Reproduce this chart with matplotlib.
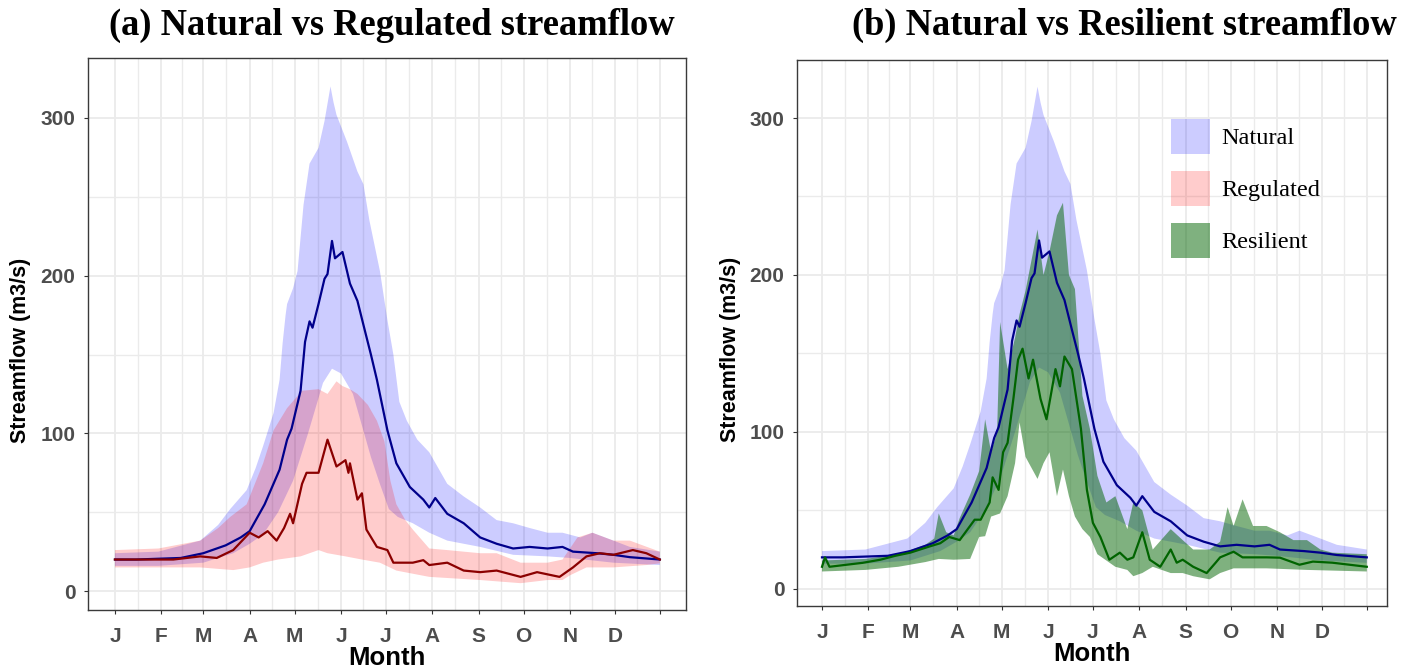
import numpy as np
import matplotlib
matplotlib.use("Agg")
import matplotlib.pyplot as plt
from matplotlib.patches import Patch

# day-of-year readings
nat_days = [1, 15, 30, 45, 60, 75, 85, 91, 101, 111, 116, 119, 125, 128, 131, 133, 137, 141, 143, 146,
            148, 153, 158, 163, 168, 172, 176, 183, 189, 198, 207, 211, 215, 223, 234, 245, 256, 267,
            278, 290, 300, 307, 323, 334, 345, 365]
nat_mean = [20, 20, 20.5, 21, 24, 29, 34, 38, 55, 77, 96, 103, 127, 158, 171, 167, 182, 198, 201, 222,
            211, 215, 195, 184, 165, 150, 134, 102, 81, 66, 58, 53, 59, 49, 43, 34, 30, 27,
            28, 27, 28, 25, 24, 23, 21.5, 20]

nat_up_days = [1, 30, 58, 70, 78, 89, 95, 100, 107, 111, 113, 115, 116, 120, 123, 127, 131, 137, 141,
               145, 147, 149, 156, 163, 167, 171, 178, 183, 187, 191, 196, 203, 211, 223, 234, 245,
               256, 267, 278, 290, 300, 312, 320, 334, 345, 365]
nat_up = [24, 25, 32, 42, 52, 64, 78, 92, 113, 134, 157, 175, 182, 192, 203, 245, 271, 281, 298,
          320, 310, 302, 285, 266, 258, 235, 203, 172, 150, 120, 108, 96, 88, 68, 60, 53,
          45, 43, 40, 37, 37, 34, 37, 32, 28, 25]

nat_lo_days = [1, 30, 60, 80, 91, 100, 110, 120, 130, 140, 146, 152, 160, 166, 172, 178, 184, 190,
               200, 211, 223, 245, 267, 290, 305, 334, 365]
nat_lo = [16, 16, 18, 24, 30, 36, 50, 70, 100, 132, 141, 138, 125, 105, 85, 68, 52, 47,
          43, 37, 32, 28, 23, 22, 21, 18, 16.5]

reg_days = [1, 20, 40, 58, 69, 80, 91, 97, 103, 109, 114, 118, 120, 126, 129, 137, 143, 149, 155, 157,
            158, 163, 166, 169, 176, 183, 187, 200, 207, 211, 223, 234, 245, 256, 272, 283, 298, 307,
            316, 325, 334, 347, 356, 365]
reg_mean = [20, 20, 20, 22, 21, 26, 37, 34, 38, 32, 40, 49, 43, 68, 75, 75, 96, 79, 83, 75,
            81, 58, 62, 39, 28, 26, 18, 18, 19.6, 16.5, 18, 13, 12, 13, 9, 12, 9, 15,
            22, 24, 23, 26, 24, 20]

reg_up_days = [1, 30, 58, 70, 78, 89, 100, 107, 116, 126, 137, 143, 149, 153, 158, 163, 170, 176,
               181, 185, 189, 195, 200, 211, 223, 245, 256, 272, 290, 300, 310, 320, 334, 345, 365]
reg_up = [26, 27, 32, 40, 47, 55, 81, 102, 116, 127, 128, 125, 133, 130, 128, 125, 118, 108,
          95, 70, 55, 45, 39, 27, 26, 24, 24, 18, 18, 20, 34, 37, 32, 32, 25]

reg_lo_days = [1, 30, 58, 80, 91, 100, 110, 125, 137, 143, 155, 166, 178, 189, 211, 245, 272, 290,
               300, 305, 316, 334, 356, 365]
reg_lo = [15, 15, 15, 13.3, 15, 18, 20, 22, 26, 24, 22, 20, 18, 13, 9, 7, 5, 7,
          7, 10, 15, 15, 16.5, 17.6]

res_days = [1, 3, 6, 28, 40, 50, 60, 73, 80, 86, 93, 103, 107, 113, 115, 119, 122, 125, 129, 132,
            135, 139, 142, 147, 151, 157, 160, 163, 168, 174, 178, 182, 187, 193, 200, 205, 209, 215,
            220, 227, 234, 238, 242, 249, 258, 264, 267, 276, 282, 298, 307, 320, 329, 342, 365]
res_mean = [14, 20, 14, 16.5, 18.5, 21, 23, 27, 29, 33, 31, 44, 44, 55, 71, 63, 87, 93, 122, 146,
            153, 134, 146, 121, 108, 140, 129, 148, 140, 102, 63, 42, 33, 18.5, 23, 18.5, 20, 36,
            18.5, 14, 25, 16.6, 18.5, 14, 10, 16.6, 20, 23.6, 20, 20, 19.8, 15.3, 17.3, 16.6, 14]

res_up_days = [1, 30, 52, 70, 76, 79, 84, 89, 93, 100, 106, 110, 114, 118, 120, 125, 130, 133, 137,
               145, 149, 153, 158, 162, 166, 170, 175, 180, 185, 191, 197, 205, 209, 215, 222, 234,
               242, 249, 260, 267, 272, 276, 282, 289, 298, 307, 316, 325, 334, 342, 365]
res_up = [18, 19, 22, 28, 32, 48, 36, 34, 45, 60, 75, 108, 87, 100, 170, 140, 160, 175, 190,
          229, 200, 215, 238, 246, 200, 191, 123, 102, 72, 55, 59, 38, 55, 50, 25, 38,
          31, 25, 25, 30, 52, 40, 57, 40, 40, 36, 31, 31, 25, 23, 22]

res_lo_days = [1, 30, 52, 70, 79, 89, 100, 106, 110, 114, 120, 125, 130, 133, 137, 145, 149, 153,
               158, 162, 166, 170, 175, 180, 185, 191, 197, 205, 209, 215, 222, 234, 242, 249, 260,
               267, 276, 298, 325, 365]
res_lo = [11, 12, 14, 17, 19, 18.5, 19, 33, 33.5, 46, 48, 59, 80, 106, 84, 70, 80, 87,
          59, 76, 59, 46, 38, 33, 22, 18, 14, 12, 8, 10, 14, 10, 10, 8, 6,
          10, 13, 13, 12, 11]

month_days = [1, 32, 60, 91, 121, 152, 182, 213, 244, 274, 305, 335, 365]
month_labels = ["J", "F", "M", "A", "M", "J", "J", "A", "S", "O", "N", "D", ""]

SANS = ["Liberation Sans", "DejaVu Sans"]
SERIF = ["Liberation Serif", "DejaVu Serif"]


def band(ax, xu, yu, xl, yl, **kw):
    xs = np.concatenate([xu, xl[::-1]])
    ys = np.concatenate([yu, yl[::-1]])
    ax.fill(xs, ys, lw=0, **kw)


def style(ax, xlim, ylim):
    ax.set_xlim(*xlim)
    ax.set_ylim(*ylim)
    ax.set_xticks(month_days)
    ax.set_xticklabels(month_labels)
    mids = [(a + b) / 2 for a, b in zip(month_days[:-1], month_days[1:])]
    ax.set_xticks(mids, minor=True)
    ax.set_yticks([0, 100, 200, 300])
    ax.set_yticks([50, 150, 250], minor=True)
    ax.set_axisbelow(True)
    ax.grid(which="major", color="#ebebeb", lw=1.3)
    ax.grid(which="minor", color="#ebebeb", lw=1.0)
    ax.tick_params(which="major", length=3, width=0.8, color="#333333", labelcolor="#4d4d4d")
    ax.tick_params(which="minor", length=0)
    ax.tick_params(axis="x", pad=9)
    ax.tick_params(axis="y", pad=6)
    for lab in ax.get_xticklabels() + ax.get_yticklabels():
        lab.set_fontfamily(SANS)
        lab.set_fontweight("bold")
        lab.set_fontsize(15)
    for sp in ax.spines.values():
        sp.set_color("#3a3a3a")
        sp.set_linewidth(1.0)
    ax.set_xlabel("Month", fontsize=18.5, fontweight="bold", family=SANS)
    ax.set_ylabel("Streamflow (m3/s)", fontsize=15.5, fontweight="bold", family=SANS)
    ax.xaxis.set_label_coords(0.5, -0.066)
    ax.yaxis.set_label_coords(-0.095, 0.47)


fig = plt.figure(figsize=(14.11, 6.69), dpi=100)
W, H = 1411, 669
ax1 = fig.add_axes([88 / W, 1 - 610 / H, 598 / W, 552 / H])
ax2 = fig.add_axes([797 / W, 1 - 606 / H, 590 / W, 546 / H])

# (a)
band(ax1, nat_up_days, nat_up, nat_lo_days, nat_lo, color="blue", alpha=0.2)
band(ax1, reg_up_days, reg_up, reg_lo_days, reg_lo, color="red", alpha=0.2)
ax1.plot(nat_days, nat_mean, color="#00008B", lw=1.6)
ax1.plot(reg_days, reg_mean, color="#8B0000", lw=1.6)
style(ax1, (-17, 382.5), (-12, 338))

# (b)
band(ax2, nat_up_days, nat_up, nat_lo_days, nat_lo, color="blue", alpha=0.2)
band(ax2, res_up_days, res_up, res_lo_days, res_lo, color="darkgreen", alpha=0.5)
ax2.plot(nat_days, nat_mean, color="#00008B", lw=1.6)
ax2.plot(res_days, res_mean, color="#006400", lw=1.6)
style(ax2, (-15.7, 378.5), (-11, 337))

handles = [Patch(facecolor="blue", alpha=0.2, lw=0, label="Natural"),
           Patch(facecolor="red", alpha=0.2, lw=0, label="Regulated"),
           Patch(facecolor="darkgreen", alpha=0.5, lw=0, label="Resilient")]
ax2.legend(handles=handles, loc="upper left", bbox_to_anchor=(1171 / W, 1 - 119 / H),
           bbox_transform=fig.transFigure, frameon=False, borderpad=0, borderaxespad=0,
           handlelength=1.6, handleheight=1.84, labelspacing=0.70, handletextpad=0.45,
           prop={"family": SERIF, "size": 17.5})

fig.text(392 / W, 1 - 35 / H, "(a) Natural vs Regulated streamflow", ha="center", va="baseline",
         fontsize=26.3, fontweight="bold", family=SERIF)
fig.text(1124 / W, 1 - 35 / H, "(b) Natural vs Resilient streamflow", ha="center", va="baseline",
         fontsize=26.3, fontweight="bold", family=SERIF)

fig.savefig("out.png", dpi=100)
